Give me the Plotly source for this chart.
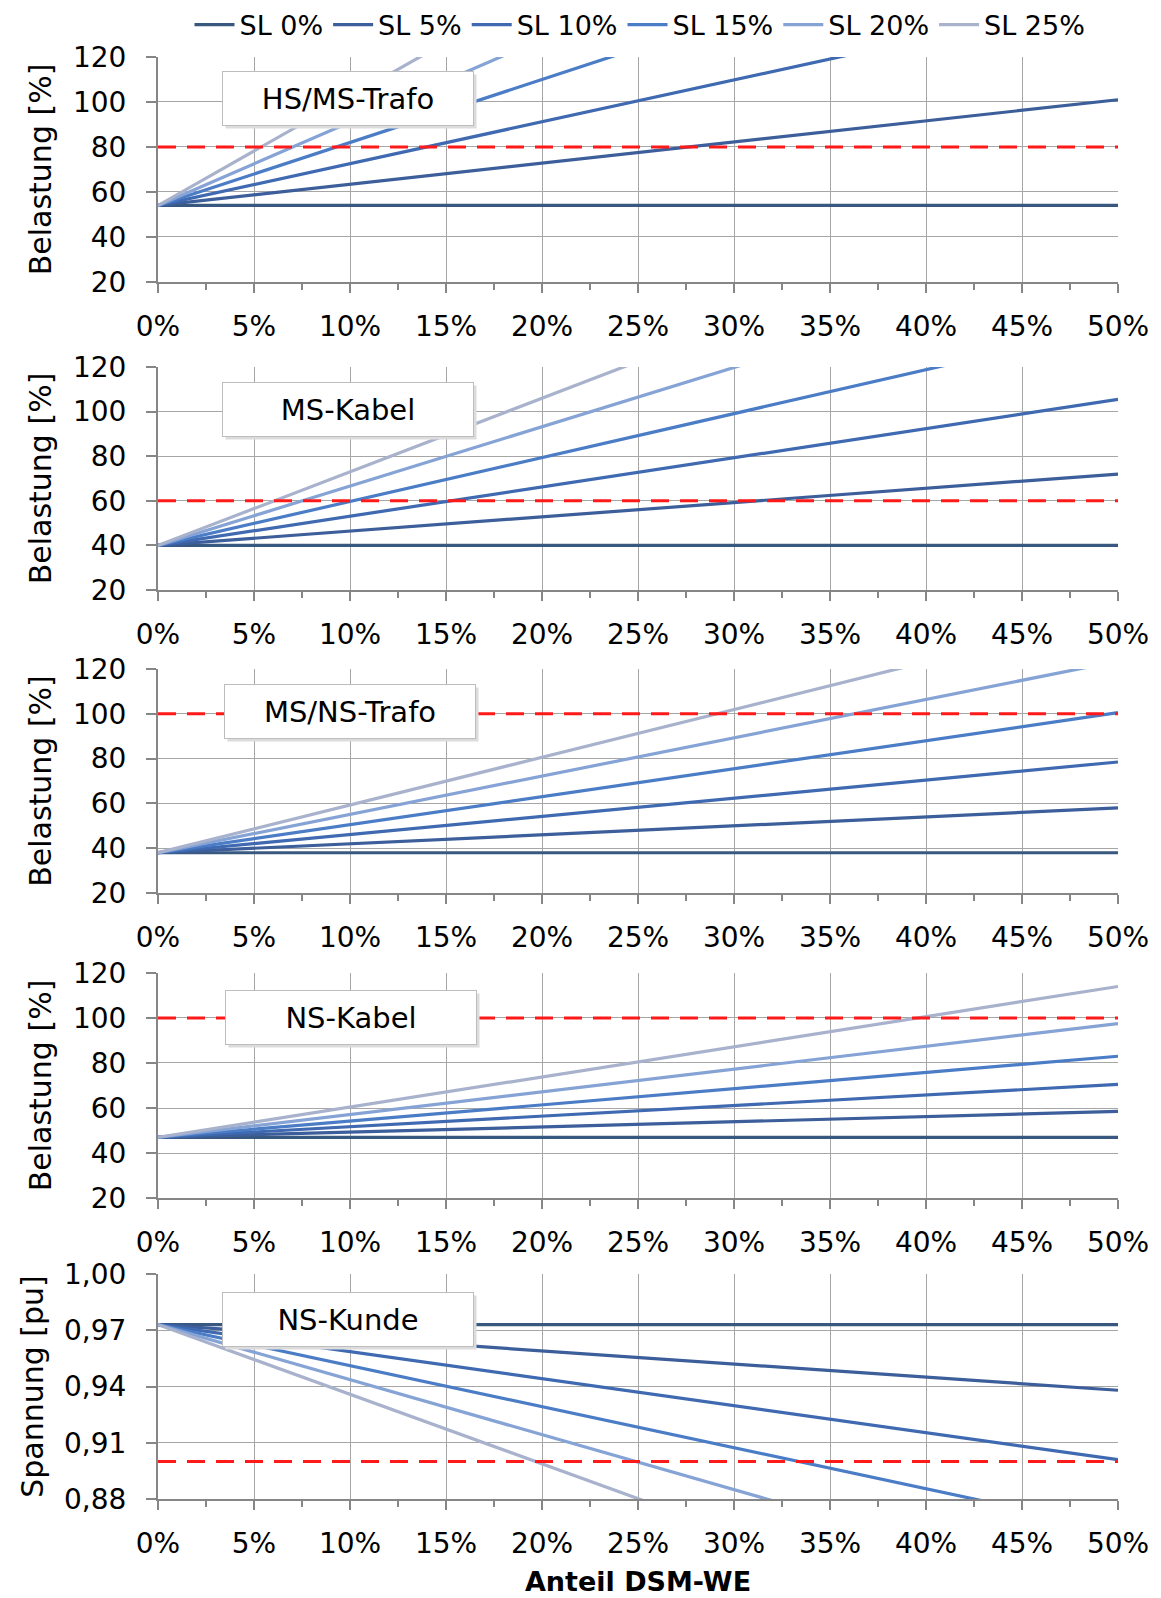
import plotly.graph_objects as go

# ---------------- data ----------------
x_share = [0.0, 0.5]                      # Anteil DSM-WE (0% ... 50%)
series_names = ["SL 0%", "SL 5%", "SL 10%", "SL 15%", "SL 20%", "SL 25%"]
series_colors = ["#39587f", "#3c5e9a", "#3f69b0", "#4b7cc6", "#86a3d6", "#a8b2cc"]

panel_titles = ["HS/MS-Trafo", "MS-Kabel", "MS/NS-Trafo", "NS-Kabel", "NS-Kunde"]
panel_ylabels = ["Belastung [%]", "Belastung [%]", "Belastung [%]", "Belastung [%]", "Spannung [pu]"]

# values at 0% and 50% for each SL series (lines leaving the range are clipped by the axis)
hs_ms_trafo = [[54, 54], [54, 101], [54, 147], [54, 194], [54, 239], [54, 296]]
ms_kabel    = [[40, 40], [40, 72], [40, 105.5], [40, 138.5], [40, 173], [40, 205]]
ms_ns_trafo = [[38, 38], [38, 58], [38, 78.5], [38, 100.5], [38, 123.5], [38, 144.5]]
ns_kabel    = [[47, 47], [47, 58.5], [47, 70.5], [47, 83], [47, 97.5], [47, 114]]
ns_kunde    = [[0.973, 0.973], [0.973, 0.938], [0.973, 0.901], [0.973, 0.8636],
               [0.973, 0.8263], [0.973, 0.7874]]
panel_data = [hs_ms_trafo, ms_kabel, ms_ns_trafo, ns_kabel, ns_kunde]

limits = [80, 60, 100, 100, 0.90]          # red dashed limit lines

y_ranges = [[20, 120], [20, 120], [20, 120], [20, 120], [0.88, 1.00]]
y_dticks = [20, 20, 20, 20, 0.03]
y_formats = ["d", "d", "d", "d", ".2f"]

x_title = "Anteil DSM-WE"

# ---------------- layout helpers ----------------
OFF = 8   # page body margin
W, H = 1161 - OFF, 1598 - OFF
ML, MR, MT, MB = 158 - OFF, 43, 57 - OFF, 99
domains = [[0.8440, 1.0], [0.6304, 0.7850], [0.4202, 0.5756], [0.2087, 0.3648], [0.0, 0.1560]]
box_y = [0.816, 0.809, 0.811, 0.802, 0.796]
box_x = [0.198, 0.198, 0.200, 0.201, 0.198]

FONT = "DejaVu Sans"
fig = go.Figure()

for p in range(5):
    xa = "x" if p == 0 else f"x{p+1}"
    ya = "y" if p == 0 else f"y{p+1}"
    for i, name in enumerate(series_names):
        fig.add_trace(go.Scatter(
            x=x_share, y=panel_data[p][i], mode="lines", name=name,
            line=dict(color=series_colors[i], width=3.2),
            showlegend=(p == 0), legendgroup=name,
            xaxis=xa, yaxis=ya, hoverinfo="skip"))
    fig.add_trace(go.Scatter(
        x=x_share, y=[limits[p], limits[p]], mode="lines",
        line=dict(color="#ff1a1a", width=3, dash="18px,11px"),
        showlegend=False, xaxis=xa, yaxis=ya, hoverinfo="skip"))

axis_common = dict(
    showline=True, linecolor="#868686", linewidth=2,
    showgrid=True, gridcolor="#a6a6a6", gridwidth=1,
    ticks="outside", tickcolor="#868686", tickwidth=2,
    tickfont=dict(family=FONT, size=28, color="black"),
    zeroline=False, mirror=False, automargin=False,
)

layout = dict(
    width=W, height=H,
    margin=dict(l=ML, r=MR, t=MT, b=MB, autoexpand=False),
    paper_bgcolor="white", plot_bgcolor="white",
    separators=",.",
    showlegend=True,
    legend=dict(orientation="h", x=(640 - OFF) / W, xref="container", xanchor="center",
                y=1 - (25 - OFF) / H, yref="container", yanchor="middle",
                font=dict(family=FONT, size=27, color="black"),
                itemwidth=40, tracegroupgap=0, bgcolor="rgba(0,0,0,0)"),
    font=dict(family=FONT, color="black"),
)

for p in range(5):
    xk = "xaxis" if p == 0 else f"xaxis{p+1}"
    yk = "yaxis" if p == 0 else f"yaxis{p+1}"
    ya = "y" if p == 0 else f"y{p+1}"
    xa = "x" if p == 0 else f"x{p+1}"
    xcfg = dict(axis_common)
    xcfg.update(domain=[0, 1], anchor=ya, range=[0, 0.5], tick0=0, dtick=0.05,
                tickformat=".0%", ticklen=9, ticklabelstandoff=9,
                minor=dict(dtick=0.025, ticks="outside", ticklen=6, tickcolor="#868686",
                           tickwidth=2, showgrid=False))
    if p == 4:
        xcfg.update(title=dict(text="<b>" + x_title + "</b>",
                               font=dict(family=FONT, size=27, color="black"), standoff=14))
    ycfg = dict(axis_common)
    ycfg.update(domain=domains[p], anchor=xa, range=y_ranges[p], tick0=y_ranges[p][0],
                dtick=y_dticks[p], tickformat=y_formats[p], ticklen=10, ticklabelstandoff=14,
                title=dict(text=panel_ylabels[p], font=dict(family=FONT, size=30, color="black"),
                           standoff=12))
    layout[xk] = xcfg
    layout[yk] = ycfg

annotations = []
for p in range(5):
    xr = ("x" if p == 0 else f"x{p+1}") + " domain"
    yr = ("y" if p == 0 else f"y{p+1}") + " domain"
    # shadow
    annotations.append(dict(text=" ", xref=xr, yref=yr, x=box_x[p], y=box_y[p],
                            xanchor="center", yanchor="middle", showarrow=False,
                            width=248, height=51, bgcolor="#dcdcdc", borderpad=1,
                            xshift=3, yshift=-3, font=dict(size=20)))
    annotations.append(dict(text=panel_titles[p], xref=xr, yref=yr, x=box_x[p], y=box_y[p],
                            xanchor="center", yanchor="middle", showarrow=False,
                            width=248, height=51, bgcolor="white", bordercolor="#bdbdbd",
                            borderwidth=1, borderpad=1,
                            font=dict(family=FONT, size=29, color="black")))
layout["annotations"] = annotations

fig.update_layout(**layout)
fig.write_html("out.html")
